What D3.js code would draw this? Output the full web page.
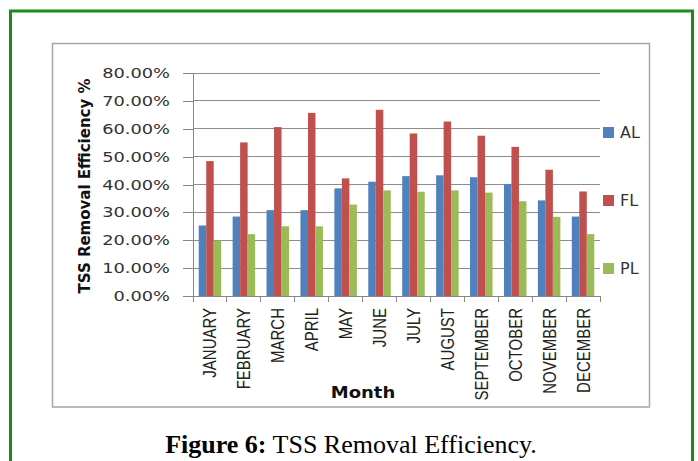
<!DOCTYPE html>
<meta charset="utf-8">
<style>
body { margin: 0; background: #fff; }
svg { display: block; }
.grid line { stroke: #8c8c8c; stroke-width: 1px; shape-rendering: crispEdges; }
.axis path, .axis line { stroke: #868686; fill: none; shape-rendering: crispEdges; }
.tick-label { font-family: 'DejaVu Sans', sans-serif; font-size: 14px; fill: #333; }
.month-label { font-family: 'Liberation Sans', sans-serif; font-size: 15px; fill: #222; }
</style>
<body>
<script src="https://d3js.org/d3.v7.min.js"></script>
<script>

// data
var months = ["JANUARY", "FEBRUARY", "MARCH", "APRIL", "MAY", "JUNE", "JULY",
              "AUGUST", "SEPTEMBER", "OCTOBER", "NOVEMBER", "DECEMBER"];
var seriesNames = ["AL", "FL", "PL"];
var alValues = [25.3, 28.5, 30.8, 30.8, 38.6, 41.0, 43.0, 43.3, 42.6, 40.2, 34.3, 28.5];
var flValues = [48.4, 55.1, 60.6, 65.7, 42.2, 66.8, 58.3, 62.6, 57.5, 53.5, 45.3, 37.5];
var plValues = [19.9, 22.2, 25.0, 25.0, 32.8, 37.9, 37.4, 37.9, 37.1, 34.0, 28.4, 22.2];
var yTicks = [0, 10, 20, 30, 40, 50, 60, 70, 80];
var colors = {AL: "#4f81bd", FL: "#c0504d", PL: "#9bbb59"};

var values = {AL: alValues, FL: flValues, PL: plValues};

var W = 698, H = 461;
var plot = {left: 193, right: 600, top: 73, bottom: 296};

var svg = d3.select("body").append("svg")
    .attr("width", W)
    .attr("height", H);

// green outer border (bottom runs off the page)
svg.append("rect")
    .attr("x", 10.5).attr("y", 11)
    .attr("width", 682).attr("height", 470)
    .attr("fill", "none")
    .attr("stroke", "#1a8c1a")
    .attr("stroke-width", 3);

// chart frame
svg.append("rect")
    .attr("x", 52.5).attr("y", 43.5)
    .attr("width", 597).attr("height", 363.5)
    .attr("fill", "#fff")
    .attr("stroke", "#a6a6a6")
    .attr("stroke-width", 1.5);

// scales
var x0 = d3.scaleBand().domain(months).range([plot.left, plot.right]);
var x1 = d3.scaleBand().domain(seriesNames).range([0, x0.bandwidth()])
    .paddingInner(0).paddingOuter(0.76);
var y = d3.scaleLinear().domain([0, 80]).range([plot.bottom, plot.top]);

// gridlines
svg.append("g").attr("class", "grid")
  .selectAll("line").data(yTicks.filter(function(d) { return d > 0; }))
  .enter().append("line")
    .attr("x1", plot.left).attr("x2", plot.right)
    .attr("y1", function(d) { return y(d); })
    .attr("y2", function(d) { return y(d); });

// bars
var groups = svg.append("g").selectAll("g")
    .data(months)
  .enter().append("g")
    .attr("transform", function(d) { return "translate(" + x0(d) + ",0)"; });

groups.selectAll("rect")
    .data(function(m, i) {
      return seriesNames.map(function(s) { return {s: s, v: values[s][i]}; });
    })
  .enter().append("rect")
    .attr("x", function(d) { return x1(d.s); })
    .attr("width", x1.bandwidth())
    .attr("y", function(d) { return y(d.v); })
    .attr("height", function(d) { return y(0) - y(d.v); })
    .attr("fill", function(d) { return colors[d.s]; });

// y axis
var yAxis = svg.append("g").attr("class", "axis")
    .attr("transform", "translate(" + plot.left + ",0)")
    .call(d3.axisLeft(y).tickValues(yTicks).tickSize(10).tickSizeOuter(0).tickFormat(""));

yTicks.forEach(function(t) {
  svg.append("text")
      .attr("class", "tick-label")
      .attr("text-anchor", "end")
      .attr("dy", "0.36em")
      .attr("transform", "translate(170," + y(t) + ") scale(1.27,1)")
      .text(t.toFixed(2) + "%");
});

// x axis: ticks between categories
var xAxis = svg.append("g").attr("class", "axis")
    .attr("transform", "translate(0," + plot.bottom + ")");
xAxis.append("line")
    .attr("x1", plot.left).attr("x2", plot.right);
xAxis.selectAll(".sep")
    .data(months.concat(["end"]))
  .enter().append("line")
    .attr("class", "sep")
    .attr("x1", function(d, i) { return plot.left + i * x0.step(); })
    .attr("x2", function(d, i) { return plot.left + i * x0.step(); })
    .attr("y1", 0).attr("y2", 6);

// month labels
svg.selectAll(".month-label")
    .data(months)
  .enter().append("text")
    .attr("class", "month-label")
    .attr("text-anchor", "end")
    .attr("dy", "0.36em")
    .attr("transform", function(d) {
      return "translate(" + (x0(d) + x0.bandwidth() / 2) + "," + (plot.bottom + 12) + ") rotate(-90) scale(1,1.2)";
    })
    .text(function(d) { return d; });

// axis titles
svg.append("text")
    .attr("transform", "translate(90,186) rotate(-90) scale(1,1.1)")
    .attr("text-anchor", "middle")
    .style("font-family", "'DejaVu Sans', sans-serif")
    .style("font-weight", "bold")
    .style("font-size", "15px")
    .style("fill", "#111")
    .text("TSS Removal Efficiency  %");

svg.append("text")
    .attr("transform", "translate(363,398) scale(1.2,1)")
    .attr("text-anchor", "middle")
    .style("font-family", "'DejaVu Sans', sans-serif")
    .style("font-weight", "bold")
    .style("font-size", "15px")
    .style("fill", "#111")
    .text("Month");

// legend
var legendY = {AL: 132, FL: 200, PL: 268};
var legend = svg.append("g").selectAll("g")
    .data(seriesNames)
  .enter().append("g")
    .attr("transform", function(d) { return "translate(603," + legendY[d] + ")"; });
legend.append("rect")
    .attr("x", 0).attr("y", -5)
    .attr("width", 11).attr("height", 11)
    .attr("fill", function(d) { return colors[d]; });
legend.append("text")
    .attr("x", 17)
    .attr("dy", "0.36em")
    .style("font-family", "'DejaVu Sans', sans-serif")
    .style("font-size", "16px")
    .style("fill", "#333")
    .text(function(d) { return d; });

// caption
var cap = svg.append("text")
    .attr("x", 351).attr("y", 453)
    .attr("text-anchor", "middle")
    .style("font-family", "'Liberation Serif', serif")
    .style("font-size", "26px")
    .style("fill", "#000");
cap.append("tspan").style("font-weight", "bold").text("Figure 6:");
cap.append("tspan").text(" TSS Removal Efficiency.");

</script>
</body>
